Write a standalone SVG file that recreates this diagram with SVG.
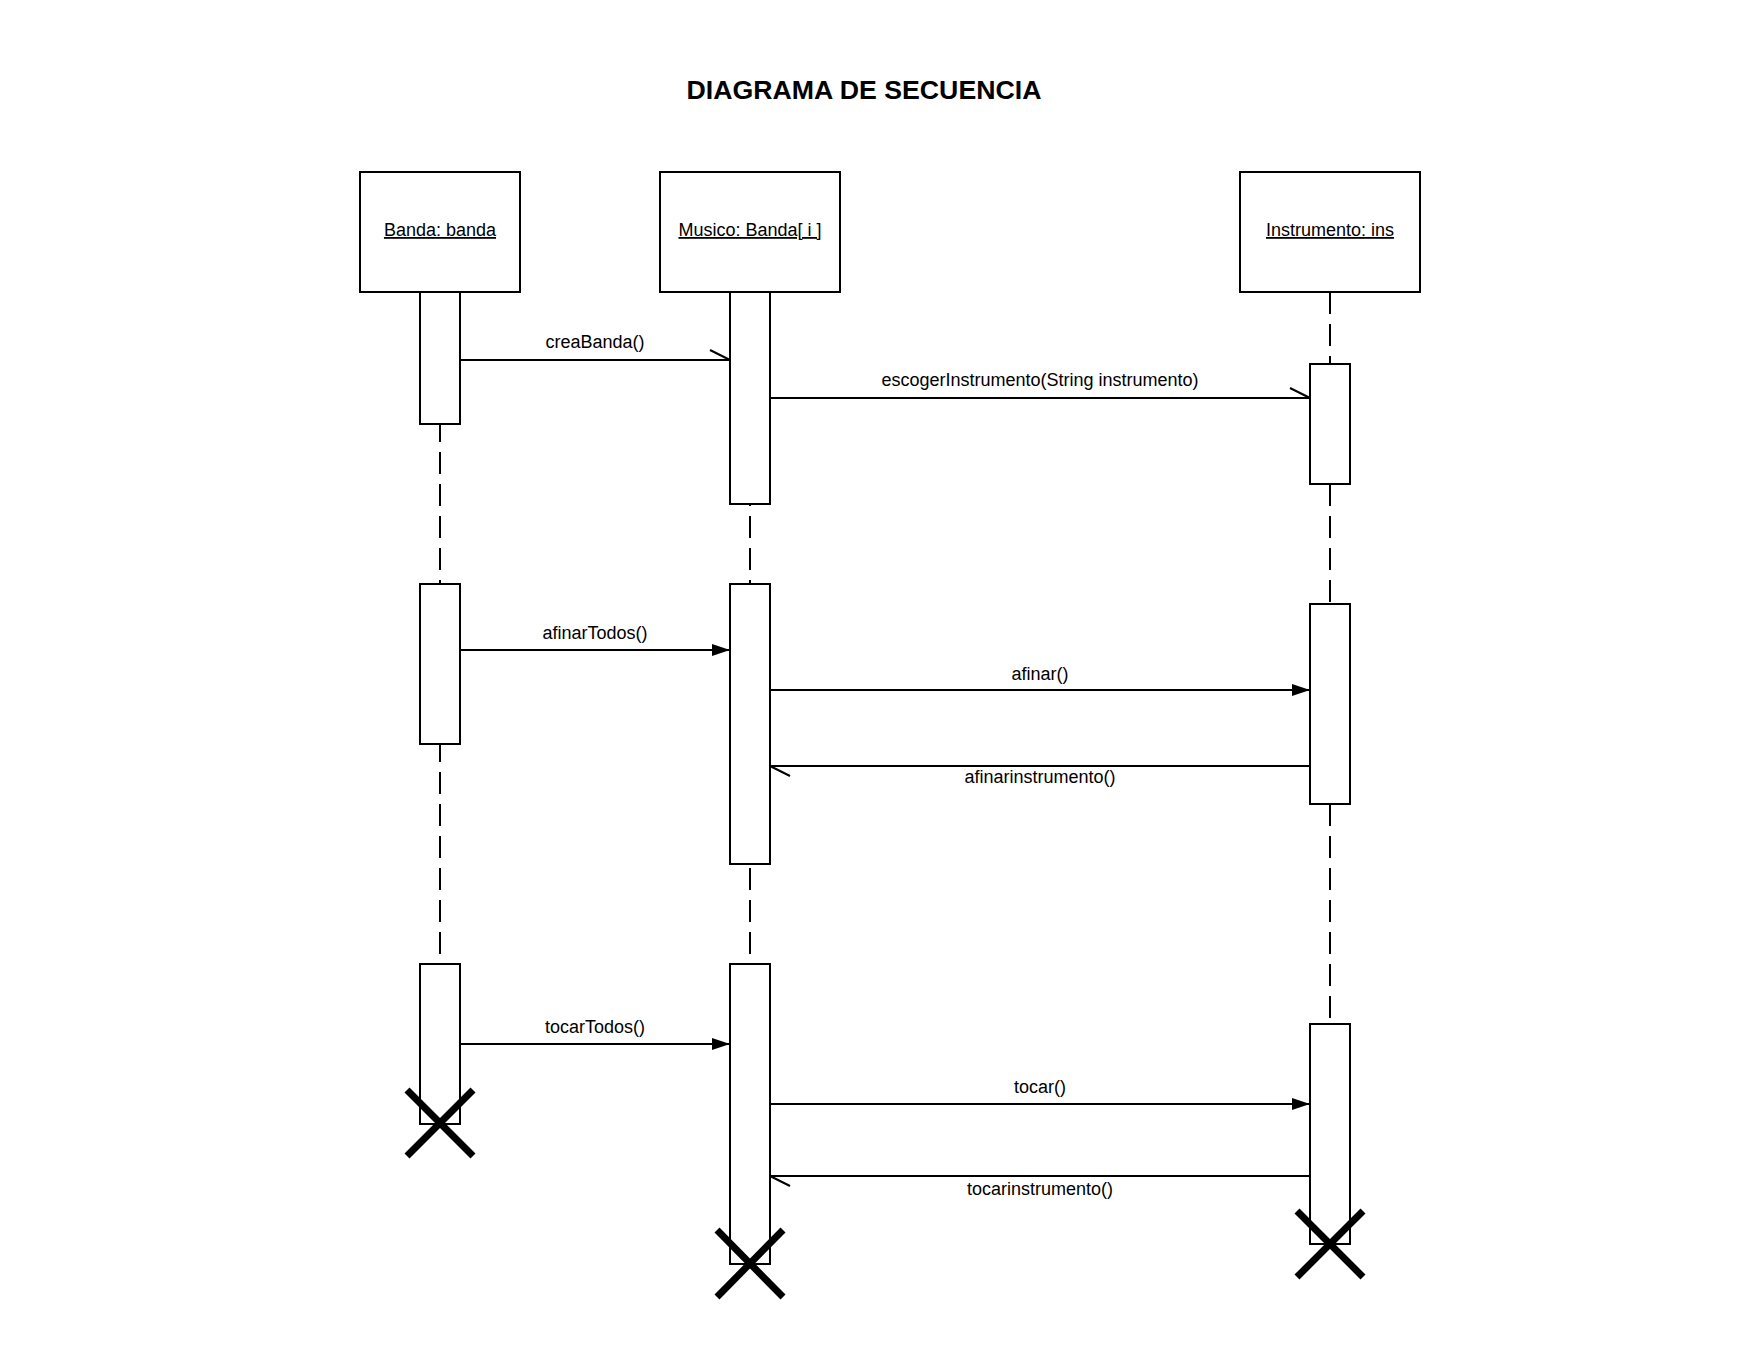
<svg xmlns="http://www.w3.org/2000/svg" width="1760" height="1360" viewBox="0 0 1760 1360">
<style>
text{font-family:"Liberation Sans",Arial,sans-serif;fill:#000}
.title{font-size:26.7px;font-weight:bold;text-anchor:middle}
.lbl{font-size:18px;text-anchor:middle;text-decoration:underline}
.msg{font-size:18px;text-anchor:middle}
.box{fill:#fff;stroke:#000;stroke-width:2}
.act{fill:#fff;stroke:#000;stroke-width:2}
.life{stroke:#000;stroke-width:2;stroke-dasharray:22 10;fill:none}
.sync{stroke:#000;stroke-width:2;fill:none;marker-end:url(#filled)}
.half{stroke:#000;stroke-width:2;fill:none;marker-end:url(#halfhead)}
.x{stroke:#000;stroke-width:7;stroke-linecap:butt}
</style>
<defs>
<marker id="filled" markerUnits="userSpaceOnUse" viewBox="0 0 18 12" refX="18" refY="6" markerWidth="18" markerHeight="12" orient="auto">
<path d="M0,0 L18,6 L0,12 Z" fill="#000"/>
</marker>
<marker id="halfhead" markerUnits="userSpaceOnUse" viewBox="0 0 22 14" refX="21" refY="12" markerWidth="22" markerHeight="14" orient="auto">
<path d="M1,2 L21,12" stroke="#000" stroke-width="2" fill="none"/>
</marker>
</defs>
<rect width="1760" height="1360" fill="#fff"/>
<text class="title" x="864" y="99">DIAGRAMA DE SECUENCIA</text>
<g id="lifelines">
<line class="life" x1="440" y1="292" x2="440" y2="1123"/>
<line class="life" x1="750" y1="292" x2="750" y2="1264"/>
<line class="life" x1="1330" y1="292" x2="1330" y2="1244"/>
</g>
<g id="node-banda">
<rect class="box" x="360" y="172" width="160" height="120"/>
<text class="lbl" x="440" y="236">Banda: banda</text>
<rect class="act" x="420" y="292" width="40" height="132"/>
<rect class="act" x="420" y="584" width="40" height="160"/>
<rect class="act" x="420" y="964" width="40" height="160"/>
<line class="x" x1="407" y1="1090" x2="473" y2="1156"/>
<line class="x" x1="473" y1="1090" x2="407" y2="1156"/>
</g>
<g id="node-musico">
<rect class="box" x="660" y="172" width="180" height="120"/>
<text class="lbl" x="750" y="236">Musico: Banda[ i ]</text>
<rect class="act" x="730" y="292" width="40" height="212"/>
<rect class="act" x="730" y="584" width="40" height="280"/>
<rect class="act" x="730" y="964" width="40" height="300"/>
<line class="x" x1="717" y1="1230" x2="783" y2="1297"/>
<line class="x" x1="783" y1="1230" x2="717" y2="1297"/>
</g>
<g id="node-instrumento">
<rect class="box" x="1240" y="172" width="180" height="120"/>
<text class="lbl" x="1330" y="236">Instrumento: ins</text>
<rect class="act" x="1310" y="364" width="40" height="120"/>
<rect class="act" x="1310" y="604" width="40" height="200"/>
<rect class="act" x="1310" y="1024" width="40" height="220"/>
<line class="x" x1="1297" y1="1211" x2="1363" y2="1277"/>
<line class="x" x1="1363" y1="1211" x2="1297" y2="1277"/>
</g>
<g id="connectors">
<line class="half" x1="461" y1="360" x2="730" y2="360"/>
<text class="msg" x="595" y="348">creaBanda()</text>
<line class="half" x1="771" y1="398" x2="1310" y2="398"/>
<text class="msg" x="1040" y="386">escogerInstrumento(String instrumento)</text>
<line class="sync" x1="461" y1="650" x2="730" y2="650"/>
<text class="msg" x="595" y="639">afinarTodos()</text>
<line class="sync" x1="771" y1="690" x2="1310" y2="690"/>
<text class="msg" x="1040" y="680">afinar()</text>
<line class="half" x1="1309" y1="766" x2="770" y2="766"/>
<text class="msg" x="1040" y="783">afinarinstrumento()</text>
<line class="sync" x1="461" y1="1044" x2="730" y2="1044"/>
<text class="msg" x="595" y="1033">tocarTodos()</text>
<line class="sync" x1="771" y1="1104" x2="1310" y2="1104"/>
<text class="msg" x="1040" y="1093">tocar()</text>
<line class="half" x1="1309" y1="1176" x2="770" y2="1176"/>
<text class="msg" x="1040" y="1195">tocarinstrumento()</text>
</g>
</svg>
